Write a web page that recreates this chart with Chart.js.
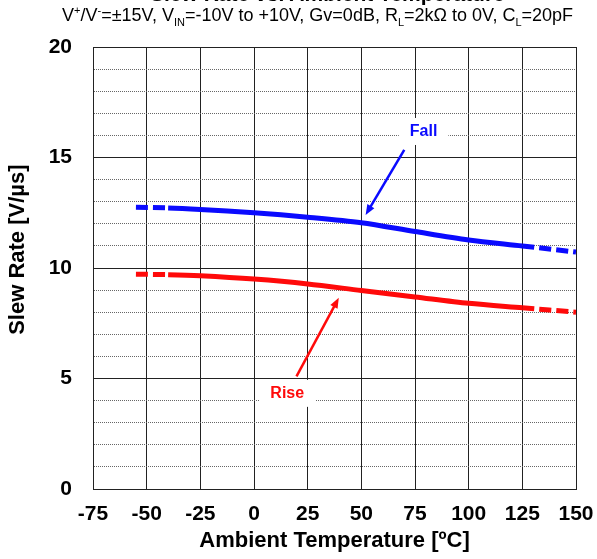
<!DOCTYPE html>
<html>
<head>
<meta charset="utf-8">
<script src="https://cdn.jsdelivr.net/npm/chart.js@4.4.0/dist/chart.umd.min.js"></script>
<style>
  body { margin: 0; background: #fff; overflow: hidden; font-family: "Liberation Sans", Arial, sans-serif; }
  #wrap { position: relative; width: 597px; height: 559px; overflow: hidden; }
  #title { position: absolute; left: 150px; top: -18px; font-weight: bold; font-size: 21px; white-space: nowrap; }
  #subtitle { position: absolute; left: 62px; top: 4px; font-size: 18px; white-space: nowrap; color: #000; }
  #subtitle sup, #subtitle sub { font-size: 11px; }
  canvas { position: absolute; left: 0; top: 0; }
</style>
</head>
<body>
<div id="wrap">
  <canvas id="chart" width="597" height="559"></canvas>
  <div id="title">Slew Rate vs. Ambient Temperature</div>
  <div id="subtitle">V<sup>+</sup>/V<sup>-</sup>=±15V, V<sub>IN</sub>=-10V to +10V, Gv=0dB, R<sub>L</sub>=2kΩ to 0V, C<sub>L</sub>=20pF</div>
</div>
<script>
// Temperatures in degC, slew rates in V/us
const temps = [-55, -40, -25, 0, 25, 50, 75, 100, 125, 150];
const fallRate = [12.75, 12.72, 12.65, 12.5, 12.3, 12.05, 11.65, 11.27, 11.0, 10.72];
const riseRate = [9.72, 9.7, 9.65, 9.5, 9.28, 8.98, 8.69, 8.4, 8.2, 8.0];

// Solid only inside the measured range, dashed outside it
const measuredFrom = -40;
const measuredTo = 125;

const xTickValues = [-75, -50, -25, 0, 25, 50, 75, 100, 125, 150];

// Callout labels with arrows (data units)
const callouts = [
    { text: 'Fall', color: '#0a0aff', label: [79, 16.2], from: [70, 15.35], to: [52, 12.4] },
    { text: 'Rise', color: '#ff0a0a', label: [15.5, 4.35], from: [19.8, 5.1], to: [39.5, 8.65] }
];

function toPoints(ys) {
    return temps.map((t, i) => ({ x: t, y: ys[i] }));
}

const outsideRange = ctx => {
    const a = ctx.p0.parsed.x, b = ctx.p1.parsed.x;
    return (b <= measuredFrom || a >= measuredTo) ? [12, 5] : undefined;
};

const calloutPlugin = {
    id: 'callouts',
    afterDatasetsDraw(chart) {
        const { ctx, scales: { x, y } } = chart;
        callouts.forEach(c => {
            const x0 = x.getPixelForValue(c.from[0]), y0 = y.getPixelForValue(c.from[1]);
            const x1 = x.getPixelForValue(c.to[0]), y1 = y.getPixelForValue(c.to[1]);
            const ang = Math.atan2(y1 - y0, x1 - x0);
            const head = 11;
            ctx.save();
            ctx.strokeStyle = c.color;
            ctx.fillStyle = c.color;
            ctx.lineWidth = 2.5;
            ctx.beginPath();
            ctx.moveTo(x0, y0);
            ctx.lineTo(x1 - Math.cos(ang) * head * 0.8, y1 - Math.sin(ang) * head * 0.8);
            ctx.stroke();
            ctx.beginPath();
            ctx.moveTo(x1, y1);
            ctx.lineTo(x1 - head * Math.cos(ang - 0.38), y1 - head * Math.sin(ang - 0.38));
            ctx.lineTo(x1 - head * Math.cos(ang + 0.38), y1 - head * Math.sin(ang + 0.38));
            ctx.closePath();
            ctx.fill();

            // label with white box
            const lx = x.getPixelForValue(c.label[0]), ly = y.getPixelForValue(c.label[1]);
            ctx.font = 'bold 16px "Liberation Sans", Arial, sans-serif';
            const w = ctx.measureText(c.text).width;
            ctx.fillStyle = '#fff';
            ctx.fillRect(lx - w / 2 - 11, ly - 13, w + 22, 27);
            ctx.fillStyle = c.color;
            ctx.textAlign = 'center';
            ctx.textBaseline = 'middle';
            ctx.fillText(c.text, lx, ly + 1);
            ctx.restore();
        });
    }
};

Chart.defaults.font.family = '"Liberation Sans", Arial, sans-serif';
Chart.defaults.color = '#000';

new Chart(document.getElementById('chart'), {
    type: 'line',
    data: {
        datasets: [{
            label: 'Fall',
            data: toPoints(fallRate),
            borderColor: '#0a0aff',
            borderWidth: 5,
            pointRadius: 0,
            tension: 0.3,
            segment: { borderDash: outsideRange }
        }, {
            label: 'Rise',
            data: toPoints(riseRate),
            borderColor: '#ff0a0a',
            borderWidth: 5,
            pointRadius: 0,
            tension: 0.3,
            segment: { borderDash: outsideRange }
        }]
    },
    options: {
        responsive: false,
        animation: false,
        layout: { padding: { top: 47, right: 21, left: 0, bottom: 0 } },
        plugins: {
            legend: { display: false },
            tooltip: { enabled: false }
        },
        scales: {
            x: {
                type: 'linear',
                min: -75,
                max: 150,
                afterBuildTicks: scale => { scale.ticks = xTickValues.map(v => ({ value: v })); },
                ticks: { font: { size: 21, weight: 'bold' }, padding: 13, maxRotation: 0, autoSkip: false },
                grid: { color: '#222', lineWidth: 1, drawTicks: false },
                border: { color: '#222', width: 1 },
                title: {
                    display: true,
                    text: 'Ambient Temperature [ºC]',
                    font: { size: 22, weight: 'bold' },
                    padding: { top: 0, bottom: 5 }
                },
                afterFit: scale => {
                    scale.height = 70;
                    scale.paddingLeft = 0;
                    scale.paddingRight = 0;
                }
            },
            y: {
                min: 0,
                max: 20,
                ticks: {
                    stepSize: 1,
                    autoSkip: false,
                    font: { size: 21, weight: 'bold' },
                    padding: 21,
                    callback: v => (v % 5 === 0 ? v : '')
                },
                grid: {
                    color: c => (c.tick && c.tick.value % 5 === 0 ? '#222' : '#666'),
                    lineWidth: 1,
                    drawTicks: false
                },
                border: {
                    color: '#222',
                    width: 1,
                    dash: c => (c.tick && c.tick.value % 5 === 0 ? [] : [1, 1])
                },
                title: {
                    display: true,
                    text: '      Slew Rate [V/µs]',
                    font: { size: 22, weight: 'bold' },
                    padding: { top: 5, bottom: 0 }
                },
                afterFit: scale => { scale.width = 93; }
            }
        }
    },
    plugins: [calloutPlugin]
});
</script>
</body>
</html>
